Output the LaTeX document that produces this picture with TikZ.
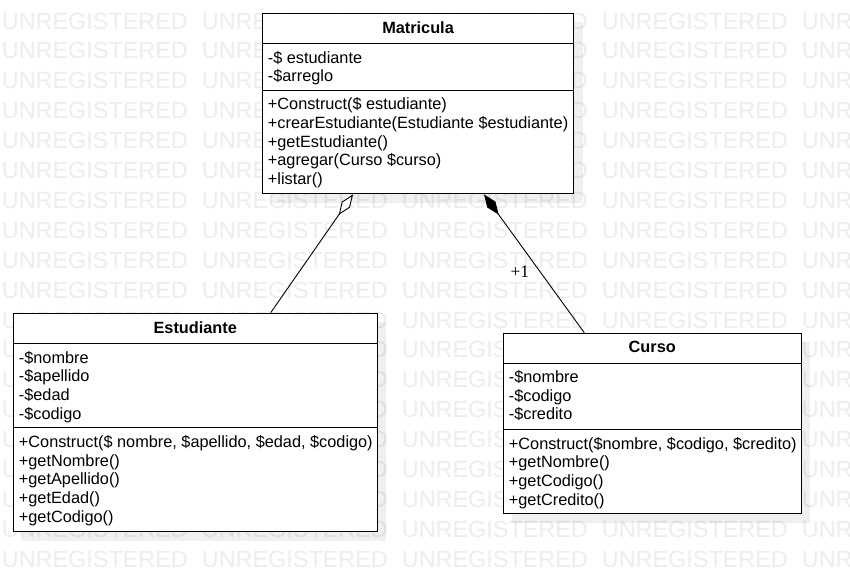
\documentclass[tikz,border=0pt]{standalone}
\usepackage{fontspec}
\setmainfont{Liberation Sans}
\newfontfamily\multfont{Liberation Serif}
\usetikzlibrary{arrows.meta,positioning,shadows}

\tikzset{
	classbox/.style={draw=black, line width=1.1pt, fill=white, anchor=north west, inner sep=0pt,
		drop shadow={shadow xshift=9pt, shadow yshift=-9pt, fill=black, opacity=0.06}},
	sepline/.style={line width=1.1pt},
	classname/.style={font=\fontsize{16.3}{18.75}\selectfont\bfseries, inner sep=0pt},
	members/.style={anchor=north west, inner sep=0pt, align=left, font=\fontsize{16.3}{18.75}\selectfont},
	assoc/.style={line width=0.9pt},
	watermark/.style={anchor=west, inner sep=0pt, text=black!7, font=\fontsize{23.4}{24}\selectfont},
}

\begin{document}
\begin{tikzpicture}[x=1pt, y=-1pt]
	\fill[white] (0,0) rectangle (850,581);
	\useasboundingbox (0,0) rectangle (850,581);
	
	% background stamp
	\begin{scope}
		\clip (0,0) rectangle (850,581);
		\foreach \r in {0,...,18}
		\foreach \c in {0,...,4}
		\node[watermark] at (1.7+200*\c, 21+29.9*\r) {UNREGISTERED};
	\end{scope}
	
	% Matricula
	\node[classbox, minimum width=311.6pt, minimum height=180.6pt] (mat) at (261.7,12.7) {};
	\draw[sepline] ([yshift=-30.6pt]mat.north west) -- ([yshift=-30.6pt]mat.north east);
	\draw[sepline] ([yshift=-78pt]mat.north west) -- ([yshift=-78pt]mat.north east);
	\node[classname] (matName) at ([yshift=-14.6pt]mat.north) {Matricula};
	\node[members] (matAttr) at ([xshift=6pt, yshift=-37pt]mat.north west)
		{\strut-\$ estudiante\\-\$arreglo};
	\node[members] (matOps) at ([xshift=6pt, yshift=-83.7pt]mat.north west)
		{\strut+Construct(\$ estudiante)\\+crearEstudiante(Estudiante \$estudiante)\\+getEstudiante()\\+agregar(Curso \$curso)\\+listar()};
	
	% Estudiante
	\node[classbox, minimum width=364pt, minimum height=218.3pt] (est) at (12.7,312.7) {};
	\draw[sepline] ([yshift=-30.6pt]est.north west) -- ([yshift=-30.6pt]est.north east);
	\draw[sepline] ([yshift=-115pt]est.north west) -- ([yshift=-115pt]est.north east);
	\node[classname] (estName) at ([yshift=-14.6pt]est.north) {Estudiante};
	\node[members] (estAttr) at ([xshift=6pt, yshift=-37pt]est.north west)
		{\strut-\$nombre\\-\$apellido\\-\$edad\\-\$codigo};
	\node[members] (estOps) at ([xshift=6pt, yshift=-121.4pt]est.north west)
		{\strut+Construct(\$ nombre, \$apellido, \$edad, \$codigo)\\+getNombre()\\+getApellido()\\+getEdad()\\+getCodigo()};
	
	% Curso
	\node[classbox, minimum width=298pt, minimum height=180.6pt] (cur) at (502.7,332.7) {};
	\draw[sepline] ([yshift=-30.6pt]cur.north west) -- ([yshift=-30.6pt]cur.north east);
	\draw[sepline] ([yshift=-96.6pt]cur.north west) -- ([yshift=-96.6pt]cur.north east);
	\node[classname] (curName) at ([yshift=-14.6pt]cur.north) {Curso};
	\node[members] (curAttr) at ([xshift=6pt, yshift=-36.4pt]cur.north west)
		{\strut-\$nombre\\-\$codigo\\-\$credito};
	\node[members] (curOps) at ([xshift=6pt, yshift=-103pt]cur.north west)
		{\strut+Construct(\$nombre, \$codigo, \$credito)\\+getNombre()\\+getCodigo()\\+getCredito()};
	
	% links
	\coordinate (estEnd) at ([xshift=258pt]est.north west);
	\coordinate (matAgg) at ([xshift=91.3pt]mat.south west);
	\coordinate (curEnd) at ([xshift=81.6pt]cur.north west);
	\coordinate (matComp) at ([xshift=222.3pt]mat.south west);
	
	\draw[assoc, -{Diamond[open, fill=white, length=25pt, width=10pt]}] (estEnd) -- (matAgg);
	\draw[assoc, -{Diamond[length=25pt, width=10pt]}] (curEnd) --
		node[pos=0.443, xshift=-20pt, font=\multfont\fontsize{17.5}{18}\selectfont] (mult) {+1} (matComp);
\end{tikzpicture}
\end{document}
